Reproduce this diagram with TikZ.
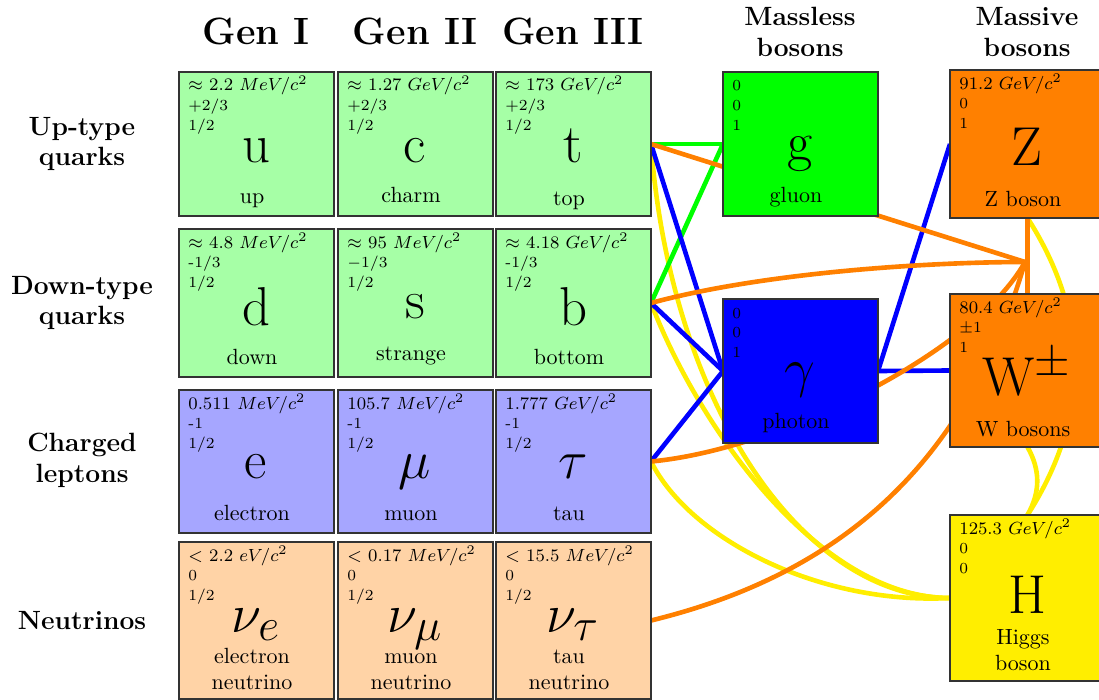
\documentclass[tikz,border=0pt]{standalone}
\usetikzlibrary{calc}
\pgfdeclarelayer{bg}
\pgfsetlayers{bg,main}
\definecolor{lgreen}{RGB}{166,255,166}
\definecolor{lblue}{RGB}{166,166,255}
\definecolor{lorange}{RGB}{255,211,166}
\definecolor{borange}{RGB}{255,128,0}
\definecolor{byellow}{RGB}{255,238,0}
\definecolor{bgreen}{RGB}{0,255,0}
\definecolor{bblue}{RGB}{0,0,255}
\tikzset{
  cell/.style={draw=black!80, line width=0.5pt, anchor=north west,
    minimum width=155*0.4545pt, inner sep=0pt, outer sep=0pt},
  info/.style={anchor=base west, inner sep=0pt, font=\scriptsize},
  minfo/.style={anchor=base west, inner sep=0pt, font=\footnotesize},
  sym/.style={anchor=base, inner sep=0pt, font=\Huge},
  pname/.style={anchor=base, inner sep=0pt, font=\normalsize},
  hdr/.style={anchor=base, inner sep=0pt, font=\LARGE\bfseries},
  sub/.style={inner sep=0pt, font=\large\bfseries, align=center},
  conn/.style={line width=2.1pt},
}
% name, x, y, height, fill, mass, charge, spin
\newcommand\ptcl[8]{%
  \node[cell, fill=#5, minimum height=#4*0.4545pt] (#1) at (#2,#3) {};
  \node[minfo] (#1-m) at ([shift={(9,19)}]#1.north west) {#6};
  \node[info] (#1-q) at ([shift={(9,38.5)}]#1.north west) {#7};
  \node[info] (#1-j) at ([shift={(9,58)}]#1.north west) {#8};
}
% name, symbol baseline, symbol, label baseline, label
\newcommand\psym[5]{%
  \node[sym] (#1-s) at ([shift={(77,#2)}]#1.north west) {#3};
  \node[pname] (#1-n) at ([shift={(73,#4)}]#1.north west) {#5};
}
\begin{document}
\begin{tikzpicture}[x=0.4545pt,y=-0.4545pt]
\useasboundingbox (0,0) rectangle (1099,700);
% headers
\node[hdr] (gen1) at (256,45) {Gen I};
\node[hdr] (gen2) at (415,45) {Gen II};
\node[hdr] (gen3) at (573,45) {Gen III};
\node[sub] (hless) at (800,32) {Massless\\bosons};
\node[sub] (hmass) at (1027,32) {Massive\\bosons};
\node[sub] (lup) at (82,144) {Up-type\\quarks};
\node[sub] (ldown) at (82,303) {Down-type\\quarks};
\node[sub] (llep) at (82,460) {Charged\\leptons};
\node[sub] (lnu) at (82,621) {Neutrinos};
% quarks
\ptcl{u}{179}{72}{144}{lgreen}{$\approx$ 2.2 $MeV/c^2$}{+2/3}{1/2}
\psym{u}{90.5}{u}{131}{up}
\ptcl{c}{338}{72}{144}{lgreen}{$\approx$ 1.27 $GeV/c^2$}{+2/3}{1/2}
\psym{c}{90.5}{c}{130}{charm}
\ptcl{t}{496}{72}{144}{lgreen}{$\approx$ 173 $GeV/c^2$}{+2/3}{1/2}
\psym{t}{90.5}{t}{133}{top}
\ptcl{d}{179}{229}{148}{lgreen}{$\approx$ 4.8 $MeV/c^2$}{-1/3}{1/2}
\psym{d}{96}{d}{135}{down}
\ptcl{s}{338}{229}{148}{lgreen}{$\approx$ 95 $MeV/c^2$}{$-1/3$}{1/2}
\psym{s}{89}{s}{131}{strange}
\ptcl{b}{496}{229}{148}{lgreen}{$\approx$ 4.18 $GeV/c^2$}{-1/3}{1/2}
\psym{b}{96}{b}{135}{bottom}
% leptons
\ptcl{e}{179}{390}{143}{lblue}{0.511 $MeV/c^2$}{-1}{1/2}
\psym{e}{88}{e}{130}{electron}
\ptcl{mu}{338}{390}{143}{lblue}{105.7 $MeV/c^2$}{-1}{1/2}
\psym{mu}{88}{$\mu$}{130}{muon}
\ptcl{tau}{496}{390}{143}{lblue}{1.777 $GeV/c^2$}{-1}{1/2}
\psym{tau}{88}{$\tau$}{130}{tau}
\ptcl{nue}{179}{542}{157}{lorange}{$<$ 2.2 $eV/c^2$}{0}{1/2}
\psym{nue}{90}{$\nu_e$}{121}{electron}
\node[pname] (nue-n2) at ([shift={(73,147)}]nue.north west) {neutrino};
\ptcl{numu}{338}{542}{157}{lorange}{$<$ 0.17 $MeV/c^2$}{0}{1/2}
\psym{numu}{90}{$\nu_\mu$}{121}{muon}
\node[pname] (numu-n2) at ([shift={(73,147)}]numu.north west) {neutrino};
\ptcl{nutau}{496}{542}{157}{lorange}{$<$ 15.5 $MeV/c^2$}{0}{1/2}
\psym{nutau}{90}{$\nu_\tau$}{121}{tau}
\node[pname] (nutau-n2) at ([shift={(73,147)}]nutau.north west) {neutrino};
% bosons
\ptcl{g}{723}{72}{144}{bgreen}{\scriptsize 0}{0}{1}
\psym{g}{88}{g}{130}{gluon}
\ptcl{gam}{723}{299}{144}{bblue}{\scriptsize 0}{0}{1}
\psym{gam}{87}{$\gamma$}{129}{photon}
\ptcl{Z}{950}{70}{148}{borange}{91.2 $GeV/c^2$}{0}{1}
\psym{Z}{95}{Z}{136}{Z boson}
\ptcl{W}{950}{294}{153}{borange}{80.4 $GeV/c^2$}{$\pm$1}{1}
\psym{W}{101}{W$^\pm$}{142}{W bosons}
\ptcl{H}{950}{515}{166}{byellow}{125.3 $GeV/c^2$}{0}{0}
\psym{H}{98}{H}{129}{Higgs}
\node[pname] (H-n2) at ([shift={(73,155)}]H.north west) {boson};
% connectors
\begin{pgfonlayer}{bg}
\coordinate (J) at (1025,262);
% Higgs couplings
\draw[conn, byellow] (t.east) .. controls +(19,256) and +(-150,0) .. (H.west);
\draw[conn, byellow] (b.east) .. controls +(49,127) and +(-130,0) .. (H.west);
\draw[conn, byellow] (tau.east) .. controls +(39,78) and +(-130,7) .. (H.west);
\draw[conn, byellow] (Z.south) .. controls +(63,98.4) and +(63,-98.4) .. (H.north);
\draw[conn, byellow] (W.south) .. controls +(13,23) and +(13,-23) .. (H.north);
% gluon
\draw[conn, bgreen] (t.east) -- (g.west);
\draw[conn, bgreen] (b.east) -- (g.west);
% photon
\draw[conn, bblue] (t.east) -- (gam.west);
\draw[conn, bblue] (b.east) -- (gam.west);
\draw[conn, bblue] (tau.east) -- (gam.west);
\draw[conn, bblue] (gam.east) -- (W.west);
\draw[conn, bblue] (gam.east) -- (Z.west);
% weak
\draw[conn, borange] (t.east) -- (J);
\draw[conn, borange] (b.east) .. controls +(110,-30) and +(-100,0) .. (J);
\draw[conn, borange] (tau.east) .. controls +(129,-12) and +(-50,90) .. (J);
\draw[conn, borange] (nutau.east) .. controls +(197,-48) and +(-57,195) .. (J);
\draw[conn, borange] (Z.south) -- (W.north);
\end{pgfonlayer}
\end{tikzpicture}
\end{document}
